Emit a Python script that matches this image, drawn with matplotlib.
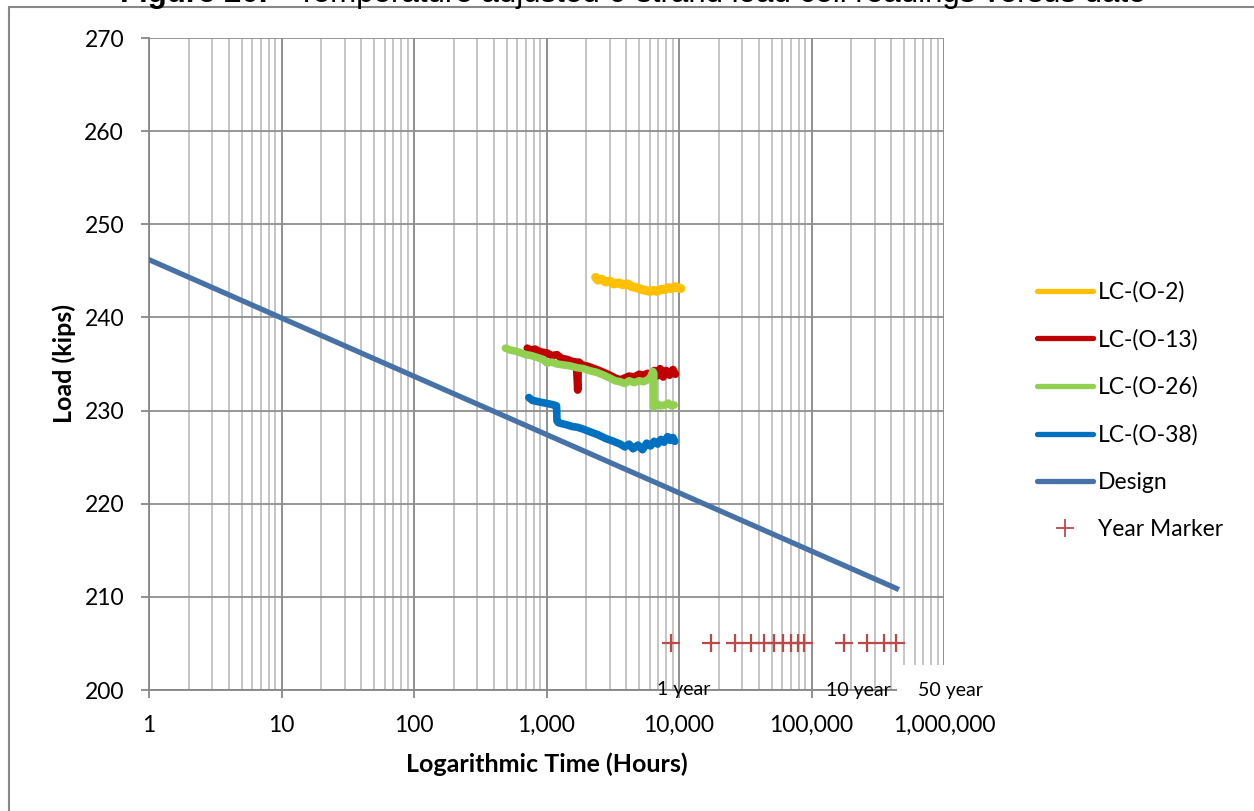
import numpy as np
import matplotlib
matplotlib.use("Agg")
import matplotlib.pyplot as plt
from matplotlib.lines import Line2D
from matplotlib.patches import Rectangle
from matplotlib.ticker import FuncFormatter, LogLocator, NullFormatter

plt.rcParams['font.family'] = ['Lato', 'DejaVu Sans']

# load cell readings, hours vs kips
o2_hours = [2350, 2450, 2600, 2800, 3000, 3200, 3500, 3800, 4100, 4400, 4800, 5200,
            5600, 6000, 6400, 6800, 7300, 7800, 8300, 8800, 9300, 9800, 10300]
o2_load = [244.3, 244.0, 244.1, 243.8, 243.9, 243.6, 243.7, 243.5, 243.6, 243.3, 243.2, 243.0,
           242.9, 242.8, 242.9, 242.8, 243.0, 243.0, 243.2, 243.1, 243.3, 243.2, 243.1]

o13_hours = [716, 760, 820, 900, 1000, 1100, 1200, 1300, 1420, 1550, 1680, 1720, 1740, 1760,
             1850, 2000, 2200, 2400, 2700, 3000, 3300, 3600, 3900, 4200, 4600, 5000, 5400,
             5800, 6100, 6500, 6800, 7200, 7600, 8000, 8500, 9000, 9400]
o13_load = [236.7, 236.5, 236.6, 236.3, 236.2, 235.9, 236.0, 235.6, 235.5, 235.3, 235.2, 232.2,
            235.1, 235.2, 234.9, 234.8, 234.6, 234.4, 234.1, 233.8, 233.5, 233.3, 233.5, 233.7,
            233.6, 233.9, 233.8, 234.0, 233.6, 234.3, 233.7, 234.5, 233.6, 234.3, 233.8, 234.4,
            233.9]

o26_hours = [490, 530, 580, 640, 700, 770, 850, 940, 1010, 1100, 1200, 1350, 1500, 1700,
             1900, 2100, 2400, 2700, 3000, 3300, 3600, 3900, 4200, 4600, 5000, 5400, 5800,
             6100, 6350, 6450, 6450, 6600, 6900, 7300, 7800, 8300, 8800, 9200]
o26_load = [236.7, 236.5, 236.4, 236.2, 236.0, 235.9, 235.7, 235.5, 235.1, 235.2, 235.0, 234.9,
            234.8, 234.6, 234.5, 234.3, 234.1, 233.8, 233.5, 233.2, 233.1, 232.9, 233.2, 233.0,
            233.2, 233.1, 233.3, 233.6, 234.2, 234.0, 230.4, 230.5, 230.7, 230.5, 230.6, 230.8,
            230.5, 230.6]

o38_hours = [736, 780, 840, 900, 980, 1060, 1140, 1190, 1200, 1230, 1300, 1400, 1550, 1720,
             1900, 2150, 2450, 2800, 3200, 3600, 3900, 4200, 4500, 4900, 5300, 5700, 6100,
             6500, 6900, 7300, 7700, 8200, 8600, 9000, 9300]
o38_load = [231.4, 231.1, 231.0, 230.9, 230.8, 230.7, 230.6, 230.5, 228.9, 228.7, 228.6, 228.5,
            228.3, 228.2, 228.0, 227.7, 227.4, 227.0, 226.7, 226.4, 226.1, 226.4, 225.9, 226.3,
            225.8, 226.5, 226.2, 226.7, 226.4, 226.9, 226.6, 227.2, 226.8, 227.1, 226.7]

design_hours = [1, 438000]
design_load = [246.2, 210.9]

marker_years = [1, 2, 3, 4, 5, 6, 7, 8, 9, 10, 20, 30, 40, 50]
marker_load = 205
labelled_years = [1, 10, 50]
label_text = ['1 year', '10 year', '50 year']

series = [
    ('LC-(O-2)', o2_hours, o2_load, '#FFC000', 6.5),
    ('LC-(O-13)', o13_hours, o13_load, '#C00000', 5.5),
    ('LC-(O-26)', o26_hours, o26_load, '#92D050', 5.5),
    ('LC-(O-38)', o38_hours, o38_load, '#0070C0', 5.5),
]
design_color = '#4672A8'
marker_color = '#B94A48'

fig = plt.figure(figsize=(12.54, 8.11), dpi=100)
ax = fig.add_axes([149 / 1254, 1 - 690 / 811, (944 - 149) / 1254, (690 - 38) / 811])

for name, h, v, c, w in series:
    ax.plot(h, v, color=c, lw=w, solid_capstyle='round', solid_joinstyle='round', zorder=3)
ax.plot(design_hours, design_load, color=design_color, lw=3.8, zorder=3)

year_hours = [y * 8760 for y in marker_years]
ax.plot(year_hours, [marker_load] * len(year_hours), ls='none', marker='+',
        ms=13, mew=1.6, color=marker_color, zorder=4)

ax.set_xscale('log')
ax.set_xlim(1, 1e6)
ax.set_ylim(200, 270)
ax.set_yticks(np.arange(200, 271, 10))
ax.xaxis.set_major_locator(LogLocator(base=10, numticks=10))
ax.xaxis.set_minor_locator(LogLocator(base=10, subs=np.arange(2, 10), numticks=20))
ax.xaxis.set_major_formatter(FuncFormatter(lambda x, p: f'{x:,.0f}'))
ax.xaxis.set_minor_formatter(NullFormatter())

ax.grid(True, which='major', axis='x', color='#878787', lw=1.3)
ax.grid(True, which='minor', axis='x', color='#c0c0c0', lw=1.3)
ax.grid(True, which='major', axis='y', color='#8f8f8f', lw=1.3)
ax.set_axisbelow(True)

for s in ['top', 'right']:
    ax.spines[s].set_visible(False)
for s in ['left', 'bottom']:
    ax.spines[s].set_color('#878787')
    ax.spines[s].set_linewidth(1.3)
ax.tick_params(axis='both', which='major', direction='out', length=6, width=1.3,
               color='#878787', labelsize=16.5, pad=12)
ax.tick_params(axis='x', which='minor', length=0)

ax.set_xlabel('Logarithmic Time (Hours)', fontsize=18, fontweight='bold', labelpad=12)
ax.set_ylabel('Load (kips)', fontsize=18, fontweight='bold', labelpad=6)

# white box behind the 50 year label (stops above the tick labels)
ax.add_patch(Rectangle((0.9415, -0.034), 0.2, 0.072, transform=ax.transAxes,
                       facecolor='white', edgecolor='none', clip_on=False, zorder=2.6))

label_offsets = [(12, -46), (54, -47), (54, -47)]
for yr, txt, off in zip(labelled_years, label_text, label_offsets):
    ax.annotate(txt, (yr * 8760, marker_load), xytext=off, textcoords='offset pixels',
                ha='center', va='center', fontsize=14, annotation_clip=False, zorder=5)

handles = [Line2D([], [], color=s[3], lw=3.8, solid_capstyle='round') for s in series]
handles.append(Line2D([], [], color=design_color, lw=3.8, solid_capstyle='round'))
handles.append(Line2D([], [], ls='none', marker='+', ms=13, mew=1.3, color=marker_color))
labels = [s[0] for s in series] + ['Design', 'Year Marker']
fig.legend(handles, labels, loc='upper left', bbox_to_anchor=(1028 / 1254, 1 - 272 / 811),
           frameon=False, fontsize=16.5, handlelength=2.45, handletextpad=0.2,
           labelspacing=1.14, borderaxespad=0)

# outer chart border and the clipped caption above it
fig.add_artist(Rectangle((9 / 1254, -0.1), 1.2, 1.1 - 7.5 / 811, transform=fig.transFigure,
                         facecolor='none', edgecolor='#878787', lw=1.5))
fig.text(120 / 1254, 1 - 2 / 811, 'Figure 20.', fontsize=22.5, fontweight='bold',
         family='Liberation Sans', va='baseline', ha='left')
fig.text(297 / 1254, 1 - 2 / 811, 'Temperature adjusted 6-strand load cell readings versus date',
         fontsize=22.5, family='Liberation Sans', va='baseline', ha='left')

fig.savefig('out.png', dpi=100)
